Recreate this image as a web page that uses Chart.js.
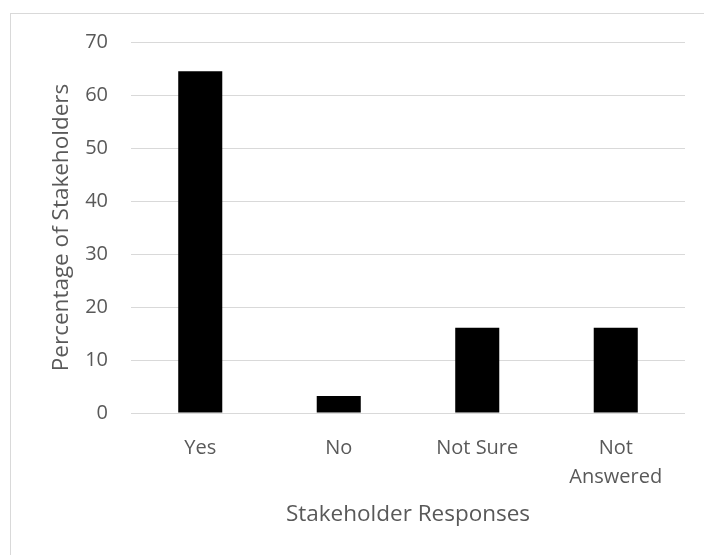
<!DOCTYPE html>
<html>
<head>
<meta charset="utf-8">
<script src="https://cdn.jsdelivr.net/npm/chart.js@4/dist/chart.umd.min.js"></script>
<style>
  html, body { margin: 0; padding: 0; background: #ffffff; }
  #wrap { width: 704px; height: 555px; position: relative; }
</style>
</head>
<body>
<div id="wrap"><canvas id="c" width="704" height="555"></canvas></div>
<script>
const categories = ['Yes', 'No', 'Not Sure', ['Not', 'Answered']];
const percentages = [64.5, 3.2, 16.1, 16.1];
const yTicks = [0, 10, 20, 30, 40, 50, 60, 70];
const xTitle = 'Stakeholder Responses';
const yTitle = 'Percentage of Stakeholders';

const textColor = '#595959';
const gridColor = '#d9d9d9';
const fontFamily = "'Open Sans', sans-serif";

const borderPlugin = {
  id: 'outerBorder',
  beforeDraw(chart) {
    const ctx = chart.ctx;
    ctx.save();
    ctx.fillStyle = '#ffffff';
    ctx.fillRect(0, 0, chart.width, chart.height);
    ctx.strokeStyle = gridColor;
    ctx.lineWidth = 1;
    ctx.strokeRect(10.5, 13.5, 900, 900);
    ctx.restore();
  }
};

new Chart(document.getElementById('c'), {
  type: 'bar',
  data: {
    labels: categories,
    datasets: [{
      data: percentages,
      backgroundColor: '#000000',
      borderWidth: 0,
      categoryPercentage: 1.0,
      barPercentage: 0.318
    }]
  },
  options: {
    responsive: false,
    animation: false,
    devicePixelRatio: 1,
    layout: { padding: { left: 48, right: 19, top: 42, bottom: 27 } },
    plugins: {
      legend: { display: false },
      tooltip: { enabled: false }
    },
    scales: {
      x: {
        grid: { display: false, drawTicks: false },
        border: { display: false },
        ticks: {
          color: textColor,
          padding: 21,
          font: { family: fontFamily, size: 20, lineHeight: 1.45 },
          maxRotation: 0,
          autoSkip: false
        },
        title: {
          display: true,
          text: xTitle,
          color: textColor,
          padding: { top: 0, bottom: 0 },
          font: { family: fontFamily, size: 22.5, lineHeight: 1.2 }
        },
        afterFit(scale) { scale.height = 115; }
      },
      y: {
        min: 0,
        max: 70,
        afterBuildTicks(scale) { scale.ticks = yTicks.map(v => ({ value: v })); },
        grid: { color: gridColor, lineWidth: 1, drawTicks: false },
        border: { display: false },
        ticks: {
          color: textColor,
          padding: 23,
          font: { family: fontFamily, size: 20 }
        },
        title: {
          display: true,
          text: yTitle,
          color: textColor,
          padding: { top: 0, bottom: 0 },
          font: { family: fontFamily, size: 22.5, lineHeight: 1.2 }
        },
        afterFit(scale) { scale.width = 83; }
      }
    }
  },
  plugins: [borderPlugin]
});
</script>
</body>
</html>
